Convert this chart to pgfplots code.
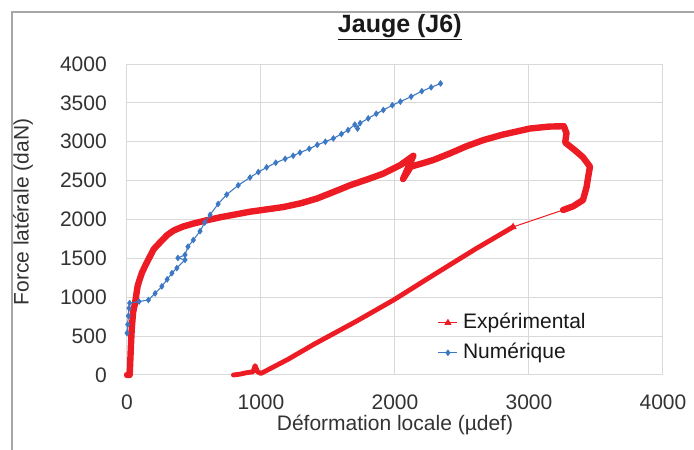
\documentclass[border=0pt]{standalone}
\usepackage{fontspec}
\setmainfont{Liberation Sans}
\usepackage{pgfplots}
\pgfplotsset{compat=1.18}
\definecolor{expred}{HTML}{ED1C24}
\definecolor{numblue}{HTML}{3C78C3}
\definecolor{gridgray}{HTML}{D9D9D9}
\definecolor{framegray}{HTML}{A6A6A6}
\definecolor{txt}{HTML}{333333}
\begin{document}
\begin{tikzpicture}
\useasboundingbox (0,0) rectangle (520.5pt,337.5pt);
\fill[white] (0,0) rectangle (520.5pt,337.5pt);
\draw[framegray, line width=1.1pt] (9pt,0) -- (9pt,328.5pt) -- (520.5pt,328.5pt);
\begin{axis}[
  at={(95.25pt,56.25pt)}, anchor=south west,
  scale only axis, width=402pt, height=233.25pt,
  xmin=0, xmax=4000, ymin=0, ymax=4000,
  xtick={0,1000,...,4000}, ytick={0,500,...,4000},
  major tick length=0pt,
  grid=major, major grid style={gridgray, line width=0.75pt},
  axis line style={gridgray, line width=0.75pt},
  clip=false,
  ticklabel style={font=\fontsize{15.75}{18}\selectfont, text=txt},
  /pgf/number format/assume math mode=true,
  /pgf/number format/1000 sep={},
  xticklabel style={anchor=north, inner sep=0pt, yshift=-15pt},
  yticklabel style={anchor=east, inner sep=0pt, xshift=-15pt},
  title={\underline{Jauge (J6)}},
  title style={font=\bfseries\fontsize{18.75}{22}\selectfont, text=black!90, at={(axis description cs:0.509,1.077)}, anchor=base, inner sep=0pt},
  xlabel={Déformation locale (µdef)},
  xlabel style={font=\fontsize{15.75}{18}\selectfont, text=txt, at={(axis description cs:0.5,-0.180)}, anchor=base, inner sep=0pt},
  ylabel={Force latérale (daN)},
  ylabel style={font=\fontsize{15.75}{18}\selectfont, text=txt, at={(axis description cs:-0.194,0.524)}, anchor=center, rotate=0, inner sep=0pt},
  legend cell align=left,
  legend style={draw=none, fill=none, inner sep=0pt, outer sep=0pt,
    at={(axis description cs:0.580,0.200)}, anchor=north west,
    font=\fontsize{15.75}{18}\selectfont, text=black!90,
    nodes={inner sep=0pt, text height=11.5pt, text depth=3.5pt},
    row sep=7.5pt, column sep=3.75pt},
  legend image code/.code={\draw[#1, mark repeat=2, mark phase=2] plot coordinates {(0pt,0pt) (7.1pt,0pt) (14.25pt,0pt)};},
]
% Experimental - loading branch (dense points, thick)
\addplot[expred, line width=4.8pt, line join=round, line cap=round, forget plot] coordinates {
(0,0) (20,0) (25,200) (30,400) (35,580) (45,800) (60,925) (80,1150) (110,1310)
(140,1420) (170,1520) (200,1620) (260,1730) (300,1800) (350,1860) (420,1910)
(500,1950) (595,1990) (700,2030) (793,2060) (918,2100) (1000,2120) (1166,2160)
(1300,2210) (1418,2270) (1550,2360) (1664,2440) (1800,2520) (1913,2590)
(2040,2700) (2137,2820) (2060,2520) (2118,2680) (2200,2720) (2286,2765)
(2410,2850) (2530,2940) (2657,3020) (2800,3090) (3007,3170) (3150,3195)
(3260,3200) (3280,3110) (3270,2990) (3350,2880) (3403,2800) (3455,2680)
(3440,2530) (3430,2420) (3403,2250) (3330,2170) (3254,2122)
};
% Experimental - sparse segment
\addplot[expred, line width=0.75pt, mark=triangle*, mark size=2.5pt, mark indices={2}, forget plot] coordinates {
(3254,2122) (2881,1904)
};
% Experimental - unloading branch
\addplot[expred, line width=3.6pt, line join=round, line cap=round, forget plot] coordinates {
(2881,1904) (2600,1620) (2300,1300) (1990,965) (1700,680) (1400,400)
(1200,200) (1000,20) (975,40) (956,120) (940,40) (894,30) (840,10) (794,0)
};
\addlegendimage{expred, line width=0.9pt, mark=triangle*, mark size=2.2pt}
\addlegendentry{Expérimental}
% Numerical
\addplot[numblue, line width=0.8pt, mark=diamond*, mark size=1.9pt, mark options={solid}] coordinates {
(0,540) (5,650) (10,760) (15,860) (20,925) (90,945) (160,965) (210,1050)
(260,1140) (300,1230) (335,1310) (372,1375) (433,1480) (380,1505) (433,1545)
(455,1650) (495,1736) (545,1850) (580,1960) (620,2060) (680,2200) (744,2320)
(830,2440) (918,2540) (980,2610) (1042,2670) (1110,2730) (1180,2780)
(1240,2820) (1291,2860) (1360,2910) (1420,2960) (1480,3000) (1540,3043)
(1600,3100) (1650,3150) (1700,3220) (1720,3170) (1740,3240) (1800,3300)
(1860,3360) (1913,3408) (1980,3470) (2040,3516) (2120,3580) (2200,3650)
(2270,3700) (2340,3750)
};
\addlegendentry{Numérique}
\end{axis}
\end{tikzpicture}
\end{document}
